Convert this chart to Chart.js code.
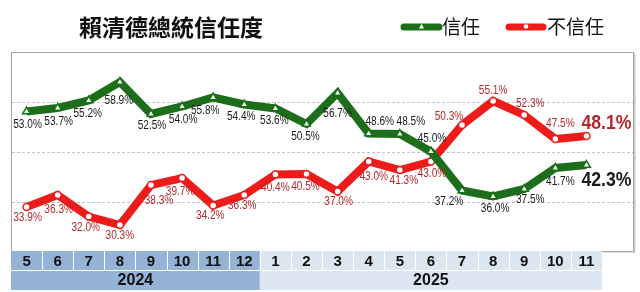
<!DOCTYPE html>
<html>
<head>
<meta charset="utf-8">
<script src="https://cdn.jsdelivr.net/npm/chart.js@4/dist/chart.umd.min.js"></script>
<style>
  html, body { margin: 0; padding: 0; background: #ffffff; }
  #wrap { width: 640px; height: 292px; position: relative; }
</style>
</head>
<body>
<div id="wrap"><canvas id="c" width="640" height="292"></canvas></div>
<script>
// ---- data ----
const months = ['5','6','7','8','9','10','11','12','1','2','3','4','5','6','7','8','9','10','11'];
const yearLabels = ['2024', '2025'];
const yearCounts = [8, 11];
const trust = [53.0, 53.7, 55.2, 58.9, 52.5, 54.0, 55.8, 54.4, 53.6, 50.5, 56.7, 48.6, 48.5, 45.0, 37.2, 36.0, 37.5, 41.7, 42.3];
const distrust = [33.9, 36.3, 32.0, 30.3, 38.3, 39.7, 34.2, 36.3, 40.4, 40.5, 37.0, 43.0, 41.3, 43.0, 50.3, 55.1, 52.3, 47.5, 48.1];
const seriesNames = ['信任', '不信任'];
const titleText = '賴清德總統信任度';
const gridValues = [35, 45, 55];

// ---- label placement (style, not data) ----
const trustOffsets = [[1,13],[1,14],[-1,13.5],[-1,19],[1,12],[1,13.5],[-8,13],[-3,12],[-1,12],[-1,13],[0,21],[11,-12],[11,-12],[1,-13],[-13,11],[2,12],[6,11],[5,13.5],[20,15]];
const distrustOffsets = [[1,11],[1,15],[-3,11.5],[0,11],[8,16],[-2,14],[-3,10],[-2,11],[0,13.5],[-1,12.5],[1,10],[5,15.5],[4,11],[1,12.5],[-13,-8],[0,-10],[6,-11],[5,-15],[20,-13]];

const GREEN = '#1d6e1a';
const RED = '#ee1b1b';
const RED_TEXT = '#b3282b';
const BOX = { left: 11, right: 633 };

function drawText(ctx, txt, x, y, font, color, sx) {
  ctx.save();
  ctx.font = font;
  ctx.fillStyle = color;
  ctx.textAlign = 'center';
  ctx.textBaseline = 'middle';
  ctx.translate(x, y);
  ctx.scale(sx, 1);
  ctx.fillText(txt, 0, 0);
  ctx.restore();
}

const decor = {
  id: 'decor',
  beforeDatasetsDraw(chart) {
    const ctx = chart.ctx;
    const ys = chart.scales.y;
    const top = ys.getPixelForValue(65);
    const bottom = ys.getPixelForValue(25) - 1;
    ctx.save();
    ctx.fillStyle = '#c8c8c8';
    ctx.fillRect(BOX.right + 0.5, top + 2, 2, bottom - top);
    ctx.fillRect(BOX.left + 2, bottom + 0.5, BOX.right - BOX.left, 1.5);
    ctx.fillStyle = '#ffffff';
    ctx.fillRect(BOX.left, top, BOX.right - BOX.left, bottom - top);
    ctx.strokeStyle = '#a6a6a6';
    ctx.lineWidth = 1;
    ctx.strokeRect(BOX.left + 0.5, Math.round(top) + 0.5, BOX.right - BOX.left, Math.round(bottom - top));
    ctx.strokeStyle = '#c4c4c4';
    ctx.setLineDash([3, 2]);
    gridValues.forEach(v => {
      const y = Math.round(ys.getPixelForValue(v)) + 0.5;
      ctx.beginPath();
      ctx.moveTo(BOX.left + 1, y);
      ctx.lineTo(BOX.right, y);
      ctx.stroke();
    });
    ctx.restore();
  },
  afterDatasetsDraw(chart) {
    const ctx = chart.ctx;
    const xs = chart.scales.x;
    const ys = chart.scales.y;
    const n = months.length;
    const half = (xs.getPixelForValue(1) - xs.getPixelForValue(0)) / 2;
    const m0 = chart.getDatasetMeta(0).data;
    const m1 = chart.getDatasetMeta(1).data;
    trust.forEach((v, i) => {
      const p = m0[i];
      const o = trustOffsets[i];
      const big = i === n - 1;
      drawText(ctx, v.toFixed(1) + '%', p.x + o[0], p.y + o[1],
        big ? 'bold 21px "Liberation Sans", Arial, sans-serif' : '12px "Liberation Sans", Arial, sans-serif',
        '#1a1a1a', 0.84);
    });
    distrust.forEach((v, i) => {
      const p = m1[i];
      const o = distrustOffsets[i];
      const big = i === n - 1;
      drawText(ctx, v.toFixed(1) + '%', p.x + o[0], p.y + o[1],
        big ? 'bold 21px "Liberation Sans", Arial, sans-serif' : '12px "Liberation Sans", Arial, sans-serif',
        RED_TEXT, 0.84);
    });

    // category table
    const rowTop = ys.getPixelForValue(25) - 0.5;
    const rowMid = rowTop + 19;
    const rowBot = rowMid + 20;
    ctx.save();
    let idx = 0;
    yearLabels.forEach((yl, g) => {
      const cnt = yearCounts[g];
      const col = g === 0 ? '#95b3d7' : '#dce6f1';
      const x0 = xs.getPixelForValue(idx) - half;
      const x1 = xs.getPixelForValue(idx + cnt - 1) + half;
      ctx.fillStyle = col;
      ctx.fillRect(x0, rowTop, x1 - x0, rowBot - rowTop);
      for (let k = idx; k < idx + cnt; k++) {
        const cx = xs.getPixelForValue(k);
        if (k > 0) {
          ctx.fillStyle = '#ffffff';
          ctx.fillRect(Math.round(cx - half), rowTop, 1, rowMid - rowTop);
        }
        drawText(ctx, months[k], cx, (rowTop + rowMid) / 2 + 1, 'bold 15px "Liberation Sans", Arial, sans-serif', '#111111', 1);
      }
      ctx.fillStyle = '#ffffff';
      ctx.fillRect(x0, rowMid, x1 - x0, 1);
      drawText(ctx, yl, (x0 + x1) / 2, (rowMid + rowBot) / 2 + 1, 'bold 16px "Liberation Sans", Arial, sans-serif', '#111111', 1);
      idx += cnt;
    });
    ctx.restore();

    // title
    ctx.save();
    ctx.font = 'bold 23px "Noto Sans CJK TC", "Noto Sans CJK SC", sans-serif';
    ctx.fillStyle = '#111111';
    ctx.textAlign = 'center';
    ctx.textBaseline = 'middle';
    ctx.fillText(titleText, 171, 27);
    ctx.restore();

    // legend
    const legendItems = [
      { x0: 404, x1: 439, color: GREEN, marker: 'triangle', text: seriesNames[0], tx: 442 },
      { x0: 509, x1: 543, color: RED, marker: 'circle', text: seriesNames[1], tx: 547 }
    ];
    legendItems.forEach(it => {
      ctx.save();
      ctx.strokeStyle = it.color;
      ctx.lineWidth = 7;
      ctx.lineCap = 'round';
      ctx.beginPath();
      ctx.moveTo(it.x0, 27);
      ctx.lineTo(it.x1, 27);
      ctx.stroke();
      const mx = (it.x0 + it.x1) / 2;
      ctx.fillStyle = '#ffffff';
      ctx.beginPath();
      if (it.marker === 'triangle') {
        ctx.moveTo(mx, 24);
        ctx.lineTo(mx + 2.5, 28.5);
        ctx.lineTo(mx - 2.5, 28.5);
        ctx.closePath();
      } else {
        ctx.arc(mx, 26.5, 2.3, 0, Math.PI * 2);
      }
      ctx.fill();
      ctx.font = '19px "Noto Sans CJK TC", "Noto Sans CJK SC", sans-serif';
      ctx.fillStyle = '#111111';
      ctx.textAlign = 'left';
      ctx.textBaseline = 'middle';
      ctx.fillText(it.text, it.tx, 27);
      ctx.restore();
    });
  }
};

new Chart(document.getElementById('c'), {
  type: 'line',
  data: {
    labels: months,
    datasets: [
      {
        label: seriesNames[0],
        data: trust,
        borderColor: GREEN,
        backgroundColor: GREEN,
        borderWidth: 8,
        pointStyle: 'triangle',
        pointRadius: 4.5,
        pointBackgroundColor: '#f4fff0',
        pointBorderColor: GREEN,
        pointBorderWidth: 1.5,
        tension: 0,
        fill: false
      },
      {
        label: seriesNames[1],
        data: distrust,
        borderColor: RED,
        backgroundColor: RED,
        borderWidth: 8,
        pointStyle: 'circle',
        pointRadius: 3.5,
        pointBackgroundColor: '#ffffff',
        pointBorderColor: RED,
        pointBorderWidth: 1.5,
        tension: 0,
        fill: false
      }
    ]
  },
  options: {
    responsive: false,
    animation: false,
    devicePixelRatio: 1,
    layout: { padding: { left: 11, right: 38, top: 51.5, bottom: 40.5 } },
    plugins: { legend: { display: false }, title: { display: false }, tooltip: { enabled: false } },
    scales: {
      x: { type: 'category', offset: true, display: false, grid: { display: false } },
      y: { min: 25, max: 65, display: false, grid: { display: false } }
    }
  },
  plugins: [decor]
});
</script>
</body>
</html>
